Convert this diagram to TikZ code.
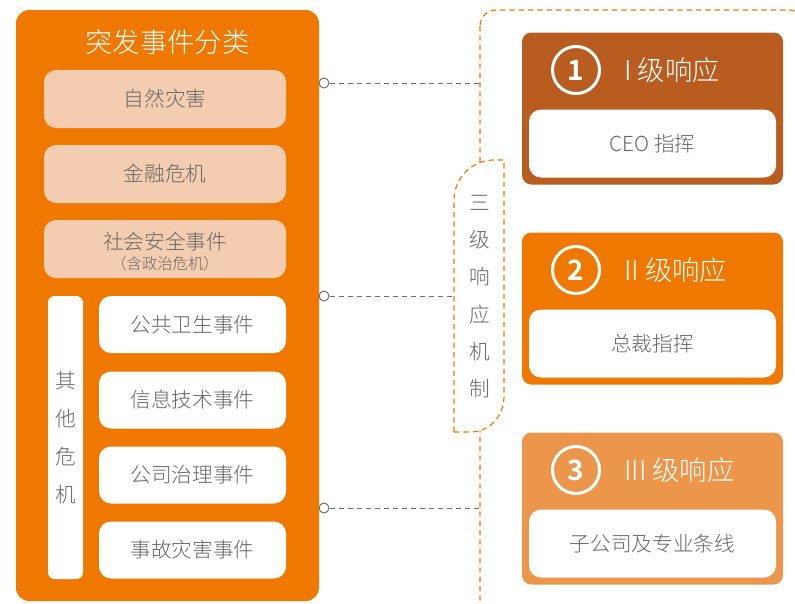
\documentclass[tikz,border=0pt]{standalone}
\usepackage{fontspec}
\setmainfont{Noto Sans CJK SC}[UprightFont={Noto Sans CJK SC Light}, BoldFont={Noto Sans CJK SC Bold}]
\usetikzlibrary{positioning}
\definecolor{mainorange}{HTML}{EE7800}
\definecolor{darkorange}{HTML}{B85C20}
\definecolor{lightorange}{HTML}{EB964B}
\definecolor{peach}{HTML}{F4CDB0}
\definecolor{textgray}{HTML}{666666}
\definecolor{linegray}{HTML}{707070}
\begin{document}
\begin{tikzpicture}[x=0.75pt,y=-0.75pt,
	catbox/.style={fill=peach, rounded corners=9pt, minimum width=242*0.75pt, minimum height=58*0.75pt, text=textgray, font=\fontsize{15.5}{18}\selectfont},
	subbox/.style={fill=white, rounded corners=9pt, minimum width=187*0.75pt, minimum height=57*0.75pt, text=textgray, font=\fontsize{15.5}{18}\selectfont},
	lvlbox/.style={rounded corners=7pt, minimum width=261*0.75pt, minimum height=152*0.75pt},
	whobox/.style={fill=white, rounded corners=9pt, minimum width=247*0.75pt, minimum height=68*0.75pt, text=textgray, font=\fontsize{15.5}{18}\selectfont},
	numcirc/.style={circle, draw=white, line width=2.25pt, minimum size=47*0.75pt, inner sep=0pt, text=white, font=\bfseries\fontsize{21}{24}\selectfont},
	dot/.style={circle, draw=linegray, fill=white, line width=0.75pt, minimum size=10*0.75pt, inner sep=0pt},
	link/.style={draw=linegray, line width=0.75pt, dash pattern=on 3.75pt off 3pt},
	bracket/.style={draw=mainorange, line width=0.9pt, dash pattern=on 4pt off 3pt}]
	\useasboundingbox (0,0) rectangle (795,603);
	\node[fill=mainorange, rounded corners=10pt, minimum width=303*0.75pt, minimum height=591*0.75pt] (panel) at (167.5,305.5) {};
	\node[text=white, font=\fontsize{20.5}{24}\selectfont] (title) at (167.5,42) {突发事件分类};
	\node[catbox] (nature) at (165,99) {自然灾害};
	\node[catbox] (finance) at (165,174) {金融危机};
	\node[catbox] (social) at (165,249) {};
	\node[text=textgray, font=\fontsize{15.5}{18}\selectfont] (socialA) at (165,242) {社会安全事件};
	\node[text=textgray, font=\fontsize{11.5}{14}\selectfont] (socialB) at (165,264) {（含政治危机）};
	\node[fill=white, rounded corners=5pt, minimum width=35*0.75pt, minimum height=283*0.75pt, text=textgray, align=center, font=\fontsize{15.5}{28.5}\selectfont] (other) at (65.5,437.5) {其\\他\\危\\机};
	\foreach \i/\y/\t in {1/324.5/公共卫生事件, 2/400/信息技术事件, 3/475/公司治理事件, 4/550/事故灾害事件}
		\node[subbox] (sub\i) at (192.5,\y) {\t};
	\draw[bracket, rounded corners=12pt] (480,10) rectangle (805,640);
	\fill[white] (454,432) -- (454,200) .. controls (454,178) and (472,160) .. (494,160) -- (504,160) -- (504,396) .. controls (504,416) and (490,432) .. (470,432) -- cycle;
	\draw[bracket] (454,432) -- (454,200) .. controls (454,178) and (472,160) .. (494,160) -- (504,160) -- (504,396) .. controls (504,416) and (490,432) .. (470,432) -- cycle;
	\node[text=textgray, align=center, font=\fontsize{15.5}{28}\selectfont] (mech) at (480,296.5) {三\\级\\响\\应\\机\\制};
	\coordinate (b1) at (480,83);
	\coordinate (b2) at (454,296);
	\coordinate (b3) at (480,508);
	\foreach \i/\y in {1/83, 2/296, 3/508} {
		\node[dot] (c\i) at (324,\y) {};
		\draw[link] (c\i) -- (b\i);
	}
	\foreach \i/\col/\lvl/\who in {1/darkorange/I/CEO 指挥, 2/mainorange/II/总裁指挥, 3/lightorange/III/子公司及专业条线} {
		\pgfmathsetmacro{\cy}{108.5+200*(\i-1)}
		\node[lvlbox, fill=\col] (lvl\i) at (652.5,\cy) {};
		\node[whobox] (who\i) at (652.5,\cy+35) {\who};
		\node[numcirc] (num\i) at (576,\cy-38.5) {\i};
		\node[anchor=west, inner sep=0pt, text=white, font=\fontsize{20.5}{24}\selectfont] (head\i) at (624,\cy-38.5) {\lvl\ 级响应};
	}
\end{tikzpicture}
\end{document}
